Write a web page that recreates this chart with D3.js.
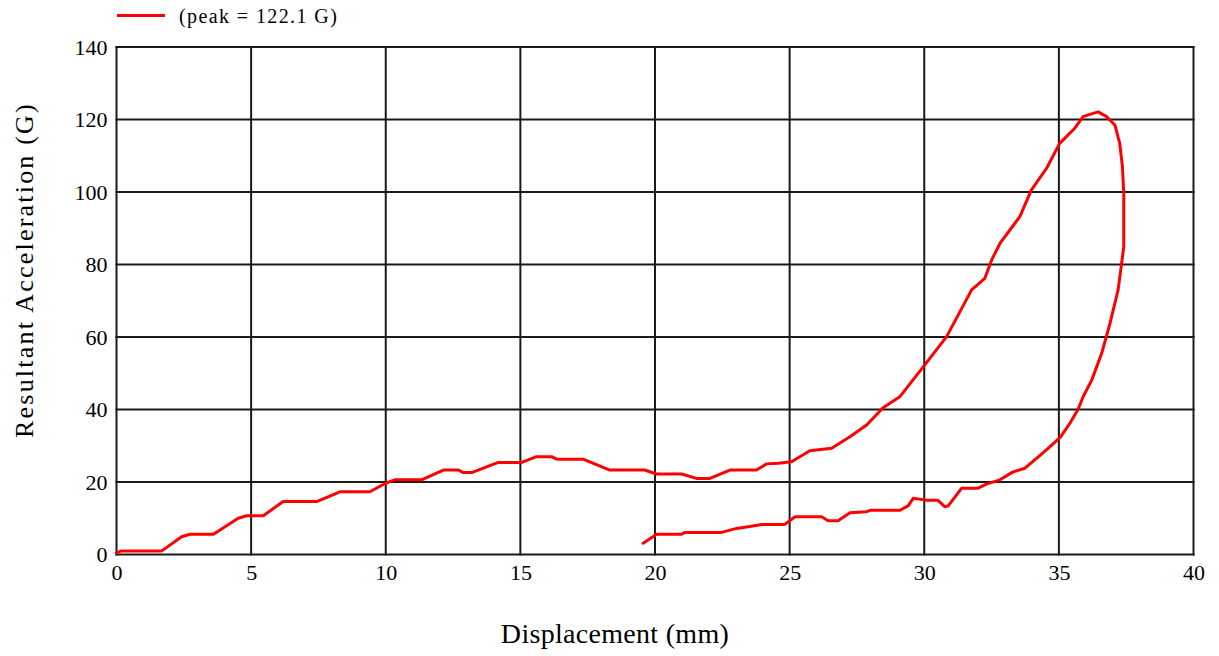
<!DOCTYPE html>
<html>
<head>
<meta charset="utf-8">
<script src="https://cdn.jsdelivr.net/npm/d3@7"></script>
<style>
  html, body { margin: 0; padding: 0; background: #ffffff; }
  svg { display: block; }
  text { font-family: "Liberation Serif", "Times New Roman", serif; fill: #000; }
</style>
</head>
<body>
<svg id="chart" width="1219" height="656"></svg>
<script>
// ---- data ----
const displacement = [
  0, 0.19, 1.68, 2.42, 2.73, 3.6, 4.52, 4.83, 5.45, 6.19, 7.43, 8.3, 9.41, 10.03, 10.34, 11.33,
  12.14, 12.7, 12.88, 13.19, 14.18, 15.05, 15.6, 16.16, 16.35, 17.33, 18.32, 19.62, 20.06, 20.99,
  21.54, 22.04, 22.78, 23.77, 24.14, 24.58, 25.07, 25.75, 26.56, 27.24, 27.86, 28.47, 29.09, 30.02,
  30.83, 31.76, 32.25, 32.5, 32.81, 33.55, 33.98, 34.54, 35.03, 35.59, 35.9, 36.27, 36.46, 36.77,
  37.08, 37.26, 37.36, 37.41, 37.41, 37.33, 37.2, 36.9, 36.59, 36.22, 35.9, 35.71, 35.41, 35.05,
  34.6, 34.17, 33.74, 33.3, 32.81, 32.31, 32.0, 31.39, 30.89, 30.76, 30.5, 30.08, 29.59, 29.4,
  29.1, 27.99, 27.86, 27.24, 26.8, 26.43, 26.19, 25.2, 24.82, 23.96, 23.52, 23.03, 22.47, 21.11,
  20.99, 20.06, 19.56
];
const acceleration = [
  0.5, 1.0, 1.0, 4.9, 5.6, 5.6, 10.0, 10.7, 10.7, 14.6, 14.6, 17.3, 17.3, 19.8, 20.6, 20.6,
  23.3, 23.3, 22.6, 22.6, 25.4, 25.4, 27.0, 27.0, 26.3, 26.3, 23.3, 23.3, 22.2, 22.2,
  21.0, 21.0, 23.3, 23.3, 25.0, 25.2, 25.6, 28.6, 29.3, 32.5, 35.7, 40.5, 43.5, 52.3,
  60.1, 73.0, 76.2, 81.2, 85.8, 93.2, 100.6, 106.5, 113.4, 117.6, 120.8, 121.7, 122.1, 120.8,
  118.5, 113.4, 107.0, 99.6, 84.9, 80.3, 73.0, 63.8, 55.5, 48.1, 43.5, 40.0, 36.2, 32.3,
  29.3, 26.5, 23.8, 22.8, 20.6, 19.4, 18.3, 18.3, 13.4, 13.2, 15.0, 15.0, 15.5, 13.4,
  12.2, 12.2, 11.8, 11.5, 9.3, 9.3, 10.4, 10.4, 8.3, 8.3, 7.7, 7.2, 6.1, 6.1,
  5.6, 5.6, 3.1
];
const xTicks = [0, 5, 10, 15, 20, 25, 30, 35, 40];
const yTicks = [0, 20, 40, 60, 80, 100, 120, 140];
const legendLabel = "(peak = 122.1 G)";
const xTitle = "Displacement (mm)";
const yTitle = "Resultant Acceleration (G)";

// ---- layout ----
const svg = d3.select("#chart");
const pLeft = 116.5, pRight = 1193.5, pTop = 47, pBottom = 554.5;
const x = d3.scaleLinear().domain([0, 40]).range([pLeft, pRight]);
const y = d3.scaleLinear().domain([0, 140]).range([pBottom, pTop]);
const gridColor = "#1a1a1a";

// grid
const grid = svg.append("g");
grid.selectAll("line.v").data(xTicks).join("line").attr("class", "v")
  .attr("x1", d => x(d)).attr("x2", d => x(d))
  .attr("y1", pTop - 1).attr("y2", pBottom + 1)
  .attr("stroke", gridColor).attr("stroke-width", 2);
grid.selectAll("line.h").data(yTicks).join("line").attr("class", "h")
  .attr("y1", d => y(d)).attr("y2", d => y(d))
  .attr("x1", pLeft - 1).attr("x2", pRight + 1)
  .attr("stroke", gridColor).attr("stroke-width", 2);

// axes (labels only, via d3 axis)
const xAxis = svg.append("g").attr("transform", `translate(0,${pBottom})`)
  .call(d3.axisBottom(x).tickValues(xTicks).tickSize(0).tickPadding(10).tickFormat(d3.format("d")));
xAxis.select(".domain").remove();
xAxis.selectAll("text").style("font-size", "22px").style("font-family", '"Liberation Serif", serif').attr("dy", "0.71em");

const yAxis = svg.append("g").attr("transform", `translate(${pLeft},0)`)
  .call(d3.axisLeft(y).tickValues(yTicks).tickSize(0).tickPadding(9).tickFormat(d3.format("d")));
yAxis.select(".domain").remove();
yAxis.selectAll("text").style("font-size", "22px").style("font-family", '"Liberation Serif", serif');

// data line
const pts = displacement.map((d, i) => [d, acceleration[i]]);
svg.append("path").datum(pts)
  .attr("fill", "none").attr("stroke", "#ff0000").attr("stroke-width", 3)
  .attr("stroke-linejoin", "round").attr("stroke-linecap", "round")
  .attr("d", d3.line().x(d => x(d[0])).y(d => y(d[1])).curve(d3.curveLinear));

// titles
svg.append("text").attr("x", 615).attr("y", 643).attr("text-anchor", "middle")
  .style("font-size", "28px").style("letter-spacing", "0.3px").text(xTitle);
svg.append("text").attr("transform", "translate(33,270) rotate(-90)").attr("text-anchor", "middle")
  .style("font-size", "26px").style("letter-spacing", "2.2px").text(yTitle);

// legend
svg.append("line").attr("x1", 117).attr("x2", 165).attr("y1", 15.5).attr("y2", 15.5)
  .attr("stroke", "#ff0000").attr("stroke-width", 3);
svg.append("text").attr("x", 179).attr("y", 23).style("font-size", "20px")
  .style("letter-spacing", "1.4px").text(legendLabel);
</script>
</body>
</html>
